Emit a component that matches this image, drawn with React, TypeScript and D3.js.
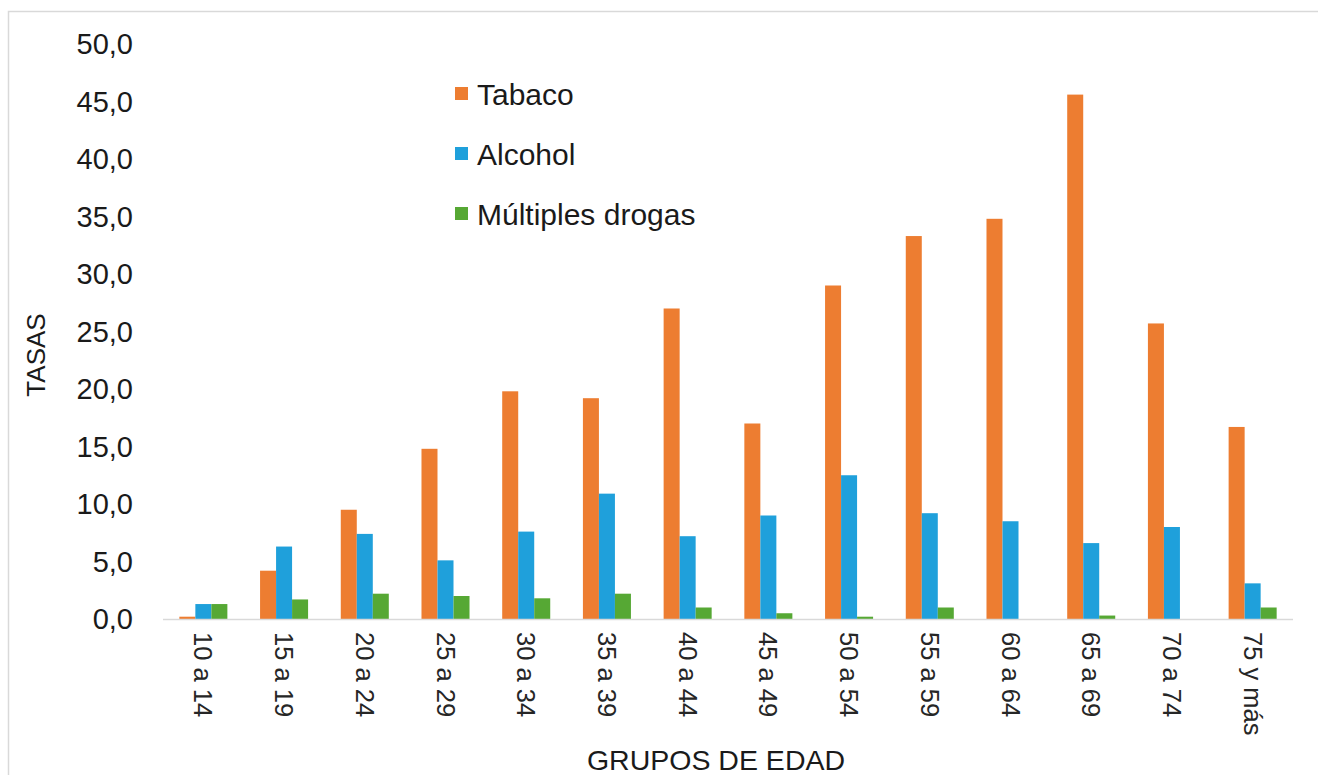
import React from "react";
import * as d3 from "d3";

const categories = ["10 a 14", "15 a 19", "20 a 24", "25 a 29", "30 a 34", "35 a 39", "40 a 44", "45 a 49", "50 a 54", "55 a 59", "60 a 64", "65 a 69", "70 a 74", "75 y más"];
const tabaco = [0.2, 4.2, 9.5, 14.8, 19.8, 19.2, 27.0, 17.0, 29.0, 33.3, 34.8, 45.6, 25.7, 16.7];
const alcohol = [1.3, 6.3, 7.4, 5.1, 7.6, 10.9, 7.2, 9.0, 12.5, 9.2, 8.5, 6.6, 8.0, 3.1];
const multiples = [1.3, 1.7, 2.2, 2.0, 1.8, 2.2, 1.0, 0.5, 0.2, 1.0, 0, 0.3, 0, 1.0];
const seriesNames = ["Tabaco", "Alcohol", "Múltiples drogas"];
const seriesColors = ["#ED7D31", "#1FA0DB", "#56A834"];
const yTicks = [0, 5, 10, 15, 20, 25, 30, 35, 40, 45, 50];

export default function App() {
  const W = 1318, H = 775;
  const left = 163, right = 1293, top = 44, bottom = 619;
  const seriesValues = [tabaco, alcohol, multiples];

  const x = d3.scaleBand<string>().domain(categories).range([left, right]).paddingInner(0.405).paddingOuter(0.2025);
  const xs = d3.scaleBand<string>().domain(seriesNames).range([0, x.bandwidth()]).padding(0);
  const y = d3.scaleLinear().domain([0, 50]).range([bottom, top]);
  const fmt = (v: number) => d3.format(".1f")(v).replace(".", ",");
  const font = "'Liberation Sans', Arial, sans-serif";

  return (
    <svg width={W} height={H} style={{ position: "absolute", left: 0, top: 0, background: "#fff" }} fontFamily={font}>
      <rect x={8.5} y={11.5} width={1400} height={900} fill="#fff" stroke="#d9d9d9" strokeWidth={1.5} />
      {seriesValues.map((vals, si) =>
        vals.map((v, i) => (
          <rect
            key={`${si}-${i}`}
            x={(x(categories[i]) as number) + (xs(seriesNames[si]) as number)}
            y={y(v)}
            width={xs.bandwidth()}
            height={bottom - y(v)}
            fill={seriesColors[si]}
          />
        ))
      )}
      <line x1={left} x2={right} y1={bottom + 0.5} y2={bottom + 0.5} stroke="#d9d9d9" strokeWidth={1.5} />
      {yTicks.map((t) => (
        <text key={t} x={133} y={y(t)} textAnchor="end" dominantBaseline="central" fontSize={29} fill="#1a1a1a">
          {fmt(t)}
        </text>
      ))}
      {categories.map((c) => {
        const cx = (x(c) as number) + x.bandwidth() / 2;
        return (
          <text key={c} transform={`translate(${cx},${632}) rotate(90)`} textAnchor="start" dominantBaseline="central" fontSize={25.5} fill="#262626">
            {c}
          </text>
        );
      })}
      <text transform={`translate(${36},${355}) rotate(-90)`} textAnchor="middle" dominantBaseline="central" fontSize={26} fill="#1a1a1a">
        TASAS
      </text>
      <text x={716} y={770} textAnchor="middle" fontSize={28.5} fill="#1a1a1a">
        GRUPOS DE EDAD
      </text>
      {seriesNames.map((s, i) => {
        const cy = 94 + i * 60;
        return (
          <g key={s}>
            <rect x={455} y={cy - 7} width={13} height={13} fill={seriesColors[i]} />
            <text x={477} y={cy} dominantBaseline="central" fontSize={30} fill="#1a1a1a">
              {s}
            </text>
          </g>
        );
      })}
    </svg>
  );
}
